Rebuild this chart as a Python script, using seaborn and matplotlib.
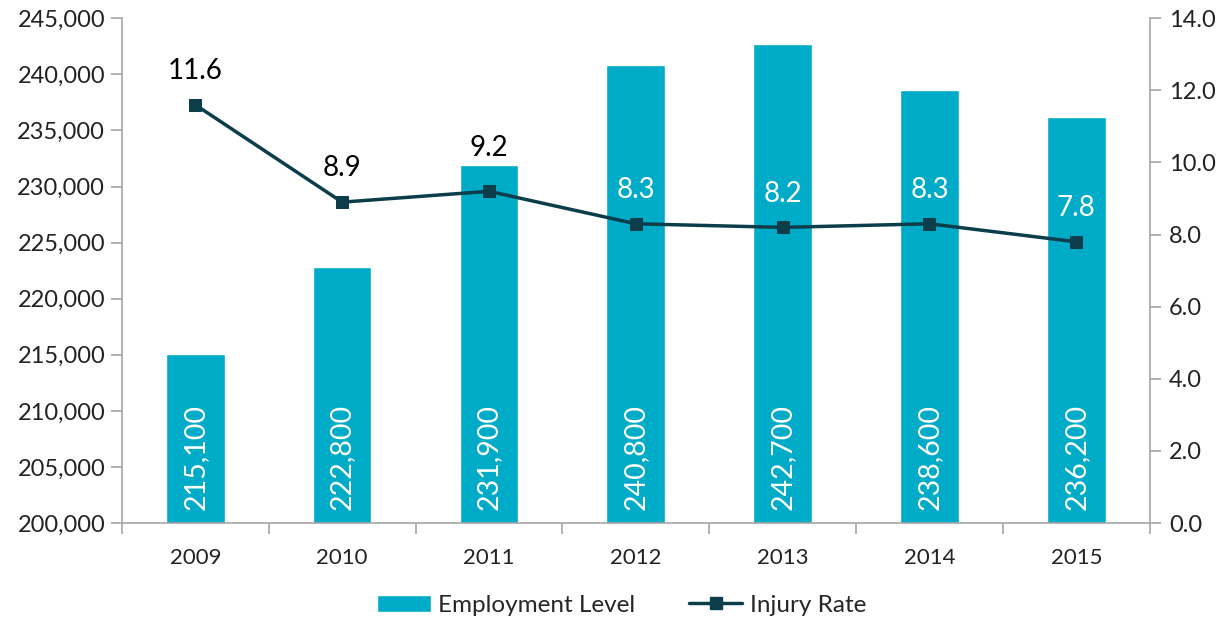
import numpy as np
import pandas as pd
import matplotlib
matplotlib.use("Agg")
import matplotlib.pyplot as plt
from matplotlib.ticker import FuncFormatter, FixedLocator
from matplotlib.patches import Patch
from matplotlib.lines import Line2D
import seaborn as sns

# data
years = ["2009", "2010", "2011", "2012", "2013", "2014", "2015"]
employment = [215100, 222800, 231900, 240800, 242700, 238600, 236200]
injury_rate = [11.6, 8.9, 9.2, 8.3, 8.2, 8.3, 7.8]

bar_color = "#00ABC7"
line_color = "#0B3D4B"
spine_color = "#A6A6A6"

sns.set_theme(style="white")
plt.rcParams["font.family"] = ["Lato", "DejaVu Sans"]

df = pd.DataFrame({"Year": years, "Employment": employment, "Rate": injury_rate})

fig = plt.figure(figsize=(12.31, 6.28), dpi=100)
ax = fig.add_axes([0.099, 0.167, 0.835, 0.804])

sns.barplot(data=df, x="Year", y="Employment", color=bar_color, saturation=1,
            width=0.40, ax=ax)
ax.set_ylim(200000, 245000)
ax.set_yticks(np.arange(200000, 245001, 5000))
ax.yaxis.set_major_formatter(FuncFormatter(lambda v, p: f"{int(v):,}"))
ax.set_xlim(-0.5, len(years) - 0.5)
ax.set_xlabel("")
ax.set_ylabel("")

# bar value labels, rotated, inside bars
for i, v in enumerate(employment):
    ax.text(i, 201200, f"{v:,}", rotation=90, ha="center", va="bottom",
            color="white", fontsize=20.5)

ax2 = ax.twinx()
pos = np.arange(len(years))
sns.lineplot(x=pos, y=injury_rate, ax=ax2, color=line_color, linewidth=2.5,
             marker="s", markersize=9, markeredgecolor=line_color)
ax2.set_ylim(0, 14)
ax2.set_yticks(np.arange(0, 14.01, 2))
ax2.yaxis.set_major_formatter(FuncFormatter(lambda v, p: f"{v:.1f}"))

for i, r in enumerate(injury_rate):
    inside = i >= 3
    off = 22 if i == 2 else 15
    ax2.annotate(f"{r:.1f}", (i, r), xytext=(0, off), textcoords="offset points",
                 ha="center", va="bottom", fontsize=20,
                 color="white" if inside else "black")

# spines and ticks
for a in (ax, ax2):
    a.spines["top"].set_visible(False)
    for s in ["left", "right", "bottom"]:
        a.spines[s].set_color(spine_color)
        a.spines[s].set_linewidth(1.2)
ax.spines["right"].set_visible(False)
ax2.spines["left"].set_visible(False)
ax2.spines["bottom"].set_visible(False)

ax.tick_params(axis="y", which="major", left=True, length=8, width=1.2,
               color=spine_color, labelsize=17, pad=4, labelcolor="#222222")
ax2.tick_params(axis="y", which="major", right=True, length=8, width=1.2,
                color=spine_color, labelsize=17, pad=6, labelcolor="#222222")
ax.tick_params(axis="x", which="major", bottom=False, labelsize=16, pad=12,
               labelcolor="#222222")
ax.xaxis.set_minor_locator(FixedLocator(np.arange(-0.5, len(years), 1.0)))
ax.tick_params(axis="x", which="minor", bottom=True, length=8, width=1.2,
               color=spine_color)

handles = [Patch(facecolor=bar_color, label="Employment Level"),
           Line2D([0], [0], color=line_color, linewidth=2.5, marker="s",
                  markersize=9, label="Injury Rate")]
fig.legend(handles=handles, loc="lower center", bbox_to_anchor=(0.505, -0.015),
           ncol=2, frameon=False, fontsize=17.5, handlelength=2.2,
           columnspacing=2.2, handletextpad=0.3)

fig.savefig("out.png", dpi=100)
